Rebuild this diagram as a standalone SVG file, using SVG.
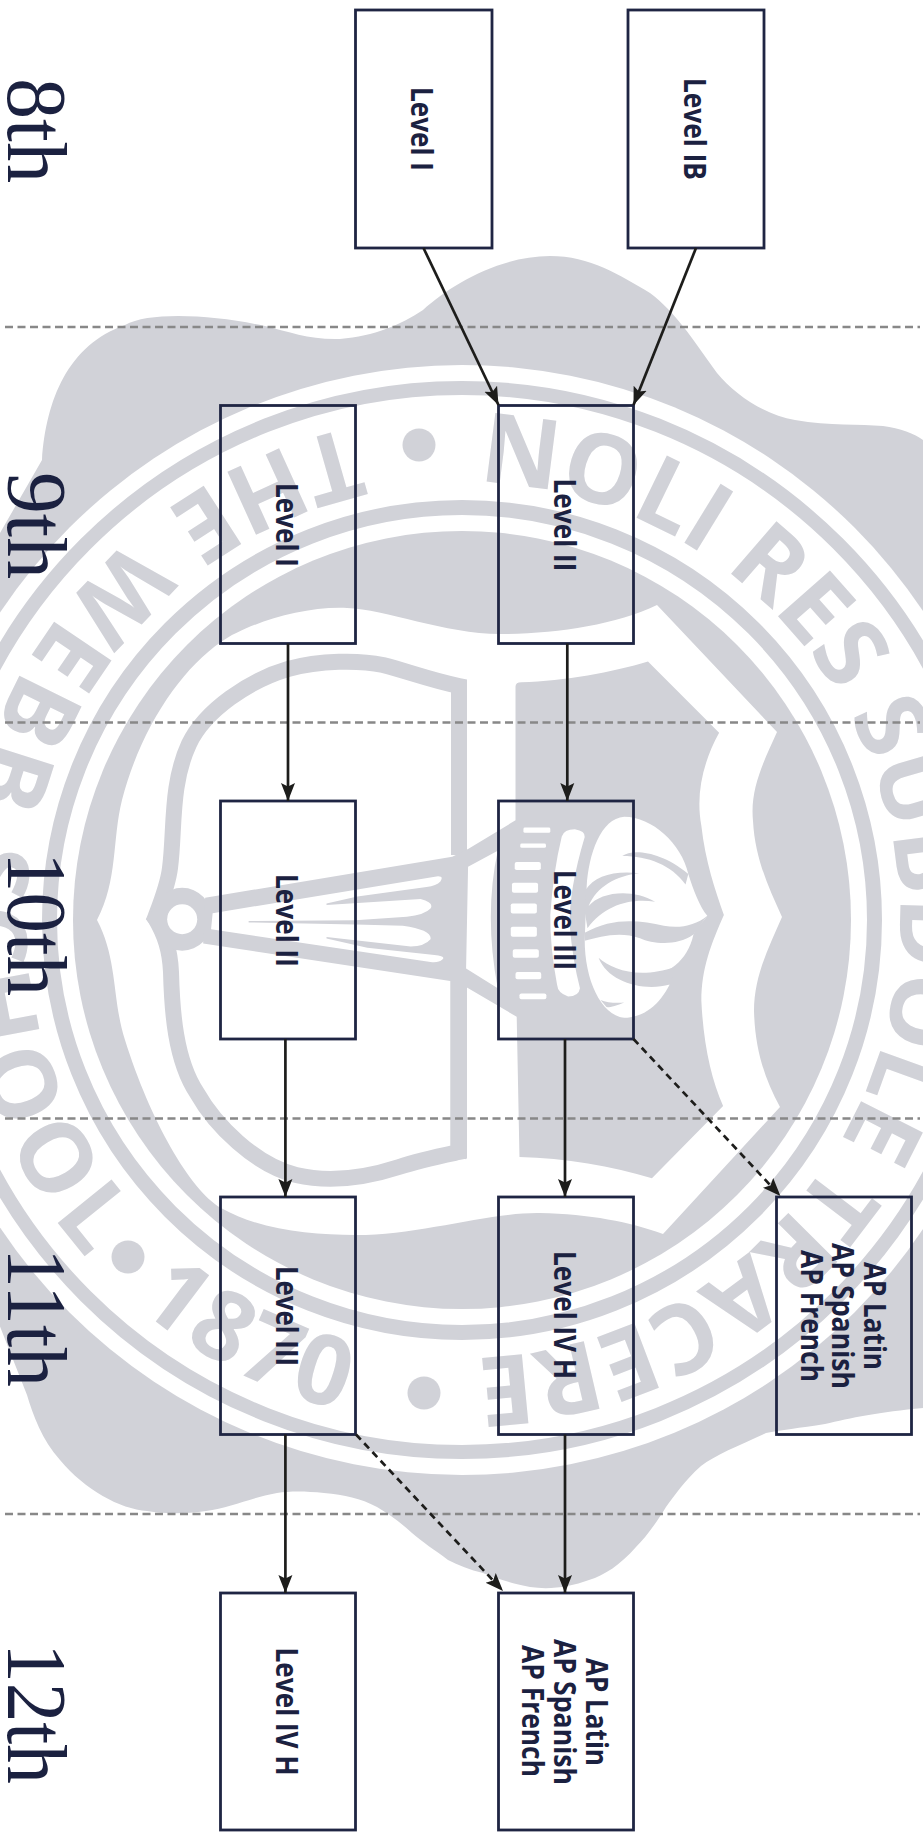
<svg xmlns="http://www.w3.org/2000/svg" xmlns:xlink="http://www.w3.org/1999/xlink" width="923" height="1839" viewBox="0 0 923 1839">
<style>
.g{fill:#d1d2d8}
.w{fill:#fff}
.box{fill:none;stroke:#1f2543;stroke-width:2.8}
.l{font-family:"Open Sans","Liberation Sans",sans-serif;font-weight:700;font-size:29.5px;fill:#1b2140}
.y{font-family:"Liberation Serif","Times New Roman",serif;font-size:84px;fill:#1b2140}
.s{font-family:"Open Sans","Liberation Sans",sans-serif;font-weight:700;font-size:97px;fill:#d1d2d8}
.c{fill:none;stroke:#1d1d1b;stroke-width:2.7;marker-end:url(#a)}
.d{stroke-dasharray:7 5}
.h{fill:none;stroke:#888;stroke-width:2.4;stroke-dasharray:8 4.5}
</style>
<defs>
<marker id="a" markerUnits="userSpaceOnUse" markerWidth="22" markerHeight="18" refX="18" refY="8" orient="auto"><path d="M18,8 L0,1 L3.5,8 L0,15Z" fill="#1d1d1b"/></marker>
<path id="cw" d="M462,482 A438,438 0 0 1 462,1358"/>
<path id="ccw" d="M462,415 A505,505 0 0 0 462,1425"/>
</defs>
<rect width="923" height="1839" fill="#fff"/>
<g id="seal">
<path class="g" d="M-50,620 L42,460 C46,400 68,345 125,325 C150,311 215,315 265,326 C290,332 310,340 340,339 C375,336 400,325 423,310 C450,285 500,256 550,256 C590,256 620,275 650,293 C675,312 690,335 717,373 C735,395 765,415 795,420 C830,426 860,424 883,426 C900,428 915,434 923,440 L980,500 L980,1400 L923,1408 C880,1412 850,1418 825,1424 C800,1428 780,1430 766,1433 C740,1445 715,1455 701,1466 C685,1480 675,1495 666,1507 C655,1525 645,1538 636,1547 C620,1565 605,1575 589,1580 C570,1587 550,1590 530,1587 C510,1583 495,1578 483,1573 C470,1570 458,1565 448,1560 C435,1550 422,1542 412,1533 C400,1522 390,1515 377,1507 C360,1498 345,1495 324,1493 C305,1491 290,1491 277,1493 C250,1498 230,1508 206,1511 C185,1514 165,1514 147,1511 C120,1509 85,1490 60,1460 C42,1440 33,1415 27,1395 L-50,1200Z"/>
<circle class="w" cx="462" cy="920" r="555"/>
<circle cx="462" cy="920" r="532" fill="none" stroke="#d1d2d8" stroke-width="14"/>
<circle cx="462" cy="920" r="412.5" fill="none" stroke="#d1d2d8" stroke-width="15"/>
<circle class="g" cx="462" cy="920" r="389"/>
<path class="w" d="M221,642 C245,625 300,606 347,608 C385,609 445,634 500,634 C555,634 615,625 657,605 L777,732 C762,765 750,790 753,821 C755,860 770,890 782,917 C770,945 754,975 754,1011 C755,1050 765,1080 780,1107 L663,1234 C630,1222 590,1214 540,1213 C490,1212 420,1235 356,1235 C310,1235 260,1230 221,1208 C190,1190 150,1120 125,1040 C112,1000 118,960 97,920 C118,880 112,840 122,800 C140,730 180,670 221,642Z"/>
<path d="M459,855 L459,686 C430,680 410,672 383,665 C360,660 320,660 288,669 C250,680 205,710 189,744 C170,785 175,830 170,868 C168,885 160,905 155,918 C165,935 170,950 171,972 C172,1010 175,1060 197,1093 C215,1125 255,1165 296,1175 C330,1183 365,1178 399,1167 C420,1160 440,1156 459,1152 L459,985" fill="none" stroke="#d1d2d8" stroke-width="16"/>
<g transform="translate(130,640) scale(0.3954,0.3571)">
<ellipse class="g" cx="132" cy="782" rx="76" ry="88"/>
<path class="g" d="M40,782 L75,735 L75,830Z"/>
<path class="g" d="M190,722 L815,607 L855,585 L975,505 L975,130 Q975,118 990,118 C1100,115 1220,90 1310,60 L1490,260 C1450,340 1430,430 1445,520 C1455,620 1480,700 1502,770 C1470,850 1445,920 1445,1010 C1450,1130 1470,1230 1500,1305 L1320,1507 C1220,1475 1100,1450 985,1448 L978,1055 L850,972 L850,1455 L810,1418 L810,955 L185,850Z"/>
<path class="w" d="M855,635 L930,590 Q895,770 930,975 L850,920Z"/>
<ellipse class="w" cx="132" cy="782" rx="38" ry="42"/>
<path class="w" d="M209,765 L775,662 Q795,660 785,676 Q775,688 750,692 L575,718 L497,738 L497,742 L735,725 Q770,735 760,752 Q745,770 700,775 L570,785 L300,787 L300,791 L570,797 L690,800 Q765,812 760,838 Q745,858 710,858 L497,832 L497,836 L600,862 L770,882 Q800,885 790,895 Q780,905 760,902 L205,810Z"/>
<g class="w">
<rect x="995" y="525" width="68" height="15" rx="4"/>
<rect x="987" y="570" width="65" height="12" rx="4"/>
<rect x="973" y="622" width="66" height="22" rx="5"/>
<rect x="966" y="680" width="66" height="28" rx="5"/>
<rect x="963" y="738" width="66" height="28" rx="5"/>
<rect x="963" y="803" width="66" height="28" rx="5"/>
<rect x="968" y="866" width="66" height="24" rx="5"/>
<rect x="975" y="930" width="65" height="20" rx="5"/>
<rect x="985" y="990" width="68" height="16" rx="5"/>
<path d="M1092,550 Q1098,530 1125,530 Q1152,535 1150,552 Q1110,700 1112,800 Q1120,900 1138,975 Q1135,998 1108,998 Q1082,990 1080,965 Q1062,860 1063,770 Q1070,650 1092,550Z"/>
<path d="M1155,690 C1160,600 1190,500 1250,495 C1320,495 1395,570 1412,655 C1425,700 1440,745 1460,772 C1450,790 1435,800 1425,825 C1410,900 1360,940 1300,945 L1365,965 C1340,1020 1300,1058 1250,1058 C1190,1050 1150,950 1150,840Z"/>
</g>
<g class="g">
<path d="M1245,605 C1270,585 1340,590 1412,655 L1405,685 C1370,630 1310,605 1245,605Z"/>
<path d="M1152,700 C1175,660 1225,645 1288,653 C1230,660 1180,690 1160,745 C1190,705 1270,695 1328,733 C1270,722 1200,740 1157,807 L1150,760Z"/>
<path d="M1150,820 C1220,775 1290,785 1350,800 C1390,808 1430,800 1460,772 L1425,825 C1380,860 1320,850 1290,835 C1240,815 1190,830 1150,842Z"/>
<path d="M1185,890 C1220,925 1290,950 1380,915 L1365,965 C1300,985 1210,960 1185,890Z"/>
<path d="M1190,1008 C1205,1015 1230,1018 1250,1015 C1230,1025 1210,1030 1205,1028Z"/>
</g>
</g>
<text class="s"><textPath xlink:href="#cw" href="#cw" startOffset="16" textLength="1345" lengthAdjust="spacing">NOLI RES SUBDOLE TRACERE</textPath></text>
<text class="s"><textPath xlink:href="#ccw" href="#ccw" startOffset="112" textLength="1052" lengthAdjust="spacing">THE WEBB SCHOOL</textPath></text>
<text class="s"><textPath xlink:href="#ccw" href="#ccw" startOffset="1232" textLength="232" lengthAdjust="spacing">1870</textPath></text>
<circle class="g" cx="419" cy="445" r="16.5"/>
<circle class="g" cx="128" cy="1257" r="16.5"/>
<circle class="g" cx="424" cy="1393" r="16.5"/>
</g>
<g id="grid">
<path class="h" d="M5,327H920"/>
<path class="h" d="M5,722.5H920"/>
<path class="h" d="M5,1118.5H920"/>
<path class="h" d="M5,1514H920"/>
</g>
<g id="years">
<text class="y" transform="translate(8,78) rotate(90)" textLength="105" lengthAdjust="spacingAndGlyphs">8th</text>
<text class="y" transform="translate(8,472) rotate(90)" textLength="107" lengthAdjust="spacingAndGlyphs">9th</text>
<text class="y" transform="translate(8,852) rotate(90)" textLength="144" lengthAdjust="spacingAndGlyphs">10th</text>
<text class="y" transform="translate(8,1248) rotate(90)" textLength="139" lengthAdjust="spacingAndGlyphs">11th</text>
<text class="y" transform="translate(8,1643) rotate(90)" textLength="141" lengthAdjust="spacingAndGlyphs">12th</text>
</g>
<g id="n8a"><rect class="box" x="355.5" y="10" width="136.5" height="238"/><text class="l" transform="translate(411,87) rotate(90)" textLength="84" lengthAdjust="spacingAndGlyphs">Level I</text></g>
<g id="n8b"><rect class="box" x="628" y="10" width="136" height="238"/><text class="l" transform="translate(683.5,78) rotate(90)" textLength="102" lengthAdjust="spacingAndGlyphs">Level IB</text></g>
<g id="n9a"><rect class="box" x="220.5" y="405.5" width="135" height="238"/><text class="l" transform="translate(276,483) rotate(90)" textLength="84" lengthAdjust="spacingAndGlyphs">Level I</text></g>
<g id="n9b"><rect class="box" x="498.5" y="405.5" width="135" height="238"/><text class="l" transform="translate(554,478.5) rotate(90)" textLength="93" lengthAdjust="spacingAndGlyphs">Level II</text></g>
<g id="n10a"><rect class="box" x="220.5" y="801" width="135" height="238"/><text class="l" transform="translate(276,874) rotate(90)" textLength="93" lengthAdjust="spacingAndGlyphs">Level II</text></g>
<g id="n10b"><rect class="box" x="498.5" y="801" width="135" height="238"/><text class="l" transform="translate(554,870) rotate(90)" textLength="100" lengthAdjust="spacingAndGlyphs">Level III</text></g>
<g id="n11a"><rect class="box" x="220.5" y="1197" width="135" height="237.5"/><text class="l" transform="translate(276,1266) rotate(90)" textLength="100" lengthAdjust="spacingAndGlyphs">Level III</text></g>
<g id="n11b"><rect class="box" x="498.5" y="1197" width="135" height="237.5"/><text class="l" transform="translate(554,1251) rotate(90)" textLength="128" lengthAdjust="spacingAndGlyphs">Level IV H</text></g>
<g id="n11c"><rect class="box" x="776.5" y="1197" width="135" height="237.5"/>
<text class="l" transform="translate(864,1262) rotate(90)" textLength="108" lengthAdjust="spacingAndGlyphs">AP Latin</text>
<text class="l" transform="translate(832.3,1243) rotate(90)" textLength="146" lengthAdjust="spacingAndGlyphs">AP Spanish</text>
<text class="l" transform="translate(800.7,1250) rotate(90)" textLength="132" lengthAdjust="spacingAndGlyphs">AP French</text></g>
<g id="n12a"><rect class="box" x="220.5" y="1593" width="135" height="237"/><text class="l" transform="translate(276,1647.5) rotate(90)" textLength="128" lengthAdjust="spacingAndGlyphs">Level IV H</text></g>
<g id="n12b"><rect class="box" x="498.5" y="1593" width="135" height="237"/>
<text class="l" transform="translate(586,1658) rotate(90)" textLength="108" lengthAdjust="spacingAndGlyphs">AP Latin</text>
<text class="l" transform="translate(553.5,1639) rotate(90)" textLength="146" lengthAdjust="spacingAndGlyphs">AP Spanish</text>
<text class="l" transform="translate(521.7,1645) rotate(90)" textLength="132" lengthAdjust="spacingAndGlyphs">AP French</text></g>
<g id="connectors">
<path class="c" d="M423.5,248L498.5,405"/>
<path class="c" d="M696,248L633.5,405"/>
<path class="c" d="M288,643.5V801"/>
<path class="c" d="M567.3,643.5V801"/>
<path class="c" d="M285.4,1039V1197"/>
<path class="c" d="M565,1039V1197"/>
<path class="c d" d="M633.5,1039L780.4,1196"/>
<path class="c" d="M285.4,1434.5V1593"/>
<path class="c" d="M565,1434.5V1593"/>
<path class="c d" d="M356,1434.5L503,1591"/>
</g>
</svg>
